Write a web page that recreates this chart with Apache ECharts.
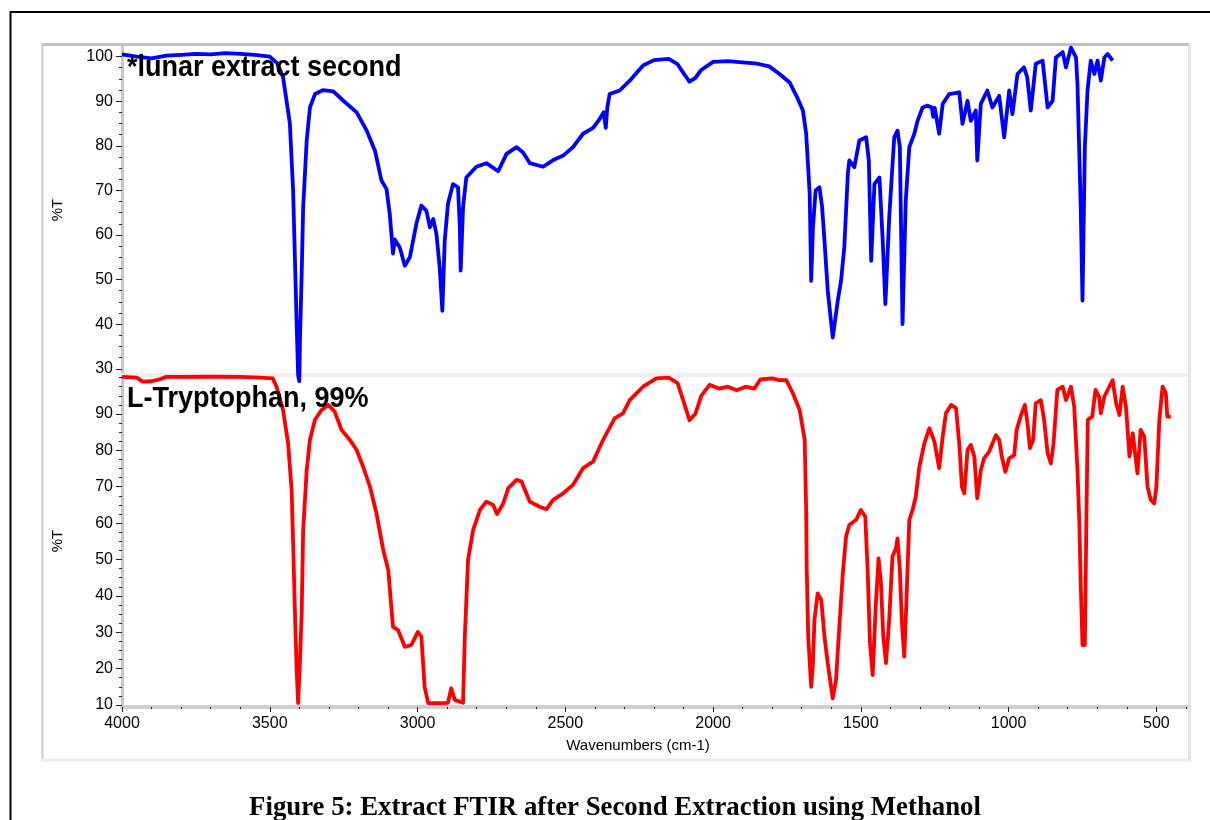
<!DOCTYPE html>
<html>
<head>
<meta charset="utf-8">
<script src="https://cdn.jsdelivr.net/npm/echarts@6/dist/echarts.min.js"></script>
<style>
html,body{margin:0;padding:0;background:#fff;}
#chart{width:1210px;height:820px;}
</style>
</head>
<body>
<div id="chart"></div>
<script>
// ---- Data: *lunar extract second (blue) ----
const blueWn = [4000,3950,3900,3850,3800,3750,3700,3650,3600,3550,3500,3476,3455,3432,3421,3415,3409,3404,3400,3398,3392,3387,3375,3364,3347,3319,3285,3251,3206,3172,3144,3122,3105,3094,3083,3077,3071,3060,3043,3026,3004,2987,2970,2958,2947,2936,2925,2916,2908,2897,2880,2863,2857,2854,2846,2835,2801,2767,2727,2699,2665,2643,2620,2575,2541,2507,2474,2440,2406,2384,2370,2363,2358,2350,2316,2282,2237,2200,2150,2120,2100,2080,2060,2040,2000,1950,1900,1850,1810,1775,1741,1718,1696,1685,1679,1673,1668,1662,1653,1640,1631,1623,1612,1595,1590,1578,1567,1556,1544,1539,1522,1505,1482,1473,1465,1454,1437,1426,1417,1404,1387,1376,1368,1359,1348,1336,1319,1308,1291,1274,1260,1255,1250,1235,1223,1201,1167,1156,1139,1128,1111,1106,1094,1072,1055,1032,1015,998,987,970,948,937,925,908,885,868,851,840,817,806,789,772,767,756,750,742,733,722,710,699,688,676,665,648];
const blueT = [100.5,100.0,99.6,100.2,100.4,100.6,100.5,100.8,100.6,100.4,100.0,98.6,95.4,85.0,70.0,55.0,40.0,28.5,27.2,36.0,51.3,66.2,81.2,88.6,91.6,92.5,92.2,90.1,87.5,83.4,78.9,72.2,70.3,64.7,55.8,59.0,58.7,57.2,53.1,55.0,62.5,66.6,65.4,61.7,63.6,60.2,52.7,43.0,58.7,67.0,71.4,70.7,62.0,52.0,66.2,72.9,75.3,76.1,74.3,78.2,79.7,78.5,76.1,75.3,76.8,77.8,79.7,82.7,84.0,86.0,87.5,84.0,88.5,91.6,92.4,94.6,98.0,99.2,99.5,98.3,96.3,94.4,95.2,97.0,98.8,99.0,98.7,98.4,97.8,96.1,94.2,91.2,87.9,82.7,76.0,69.2,49.7,61.7,70.0,70.7,66.2,58.7,47.5,37.0,36.9,45.3,49.7,57.2,73.7,76.7,75.2,81.2,81.9,76.7,54.2,71.4,72.9,58.7,44.5,63.9,81.9,83.4,79.7,40.0,67.7,79.7,82.7,85.6,88.6,89.0,88.6,86.5,88.5,82.7,89.4,91.6,92.0,84.9,90.1,85.6,87.9,76.7,89.4,92.4,88.6,91.2,81.9,92.4,87.1,96.1,97.6,95.4,87.9,98.4,99.1,88.6,90.1,99.8,101.0,97.6,102.0,99.8,93.9,66.2,45.3,79.7,92.4,99.1,96.1,99.1,94.6,99.8,100.6,99.1];

// ---- Data: L-Tryptophan, 99% (red) ----
const redWn = [4000,3950,3930,3900,3870,3850,3800,3700,3600,3533,3490,3477,3455,3438,3426,3421,3415,3409,3404,3398,3392,3387,3375,3364,3347,3325,3302,3280,3257,3229,3206,3184,3161,3139,3116,3099,3083,3066,3043,3021,2999,2987,2976,2964,2925,2897,2886,2874,2846,2840,2829,2812,2789,2767,2744,2731,2710,2693,2665,2648,2620,2587,2564,2541,2507,2474,2440,2406,2372,2333,2305,2282,2237,2192,2150,2120,2100,2080,2060,2040,2012,1980,1950,1920,1890,1860,1840,1800,1775,1752,1730,1707,1690,1685,1683,1678,1668,1662,1657,1646,1634,1623,1612,1595,1584,1572,1561,1550,1539,1516,1500,1485,1477,1469,1460,1449,1440,1432,1424,1415,1404,1393,1381,1376,1368,1361,1353,1346,1336,1325,1314,1302,1285,1268,1251,1235,1223,1212,1195,1178,1167,1158,1150,1139,1128,1116,1106,1094,1083,1066,1043,1032,1023,1011,998,981,973,958,945,936,928,917,908,891,880,868,857,848,835,817,806,789,778,767,761,756,750,742,737,732,717,706,694,688,676,665,648,636,625,614,603,591,580,572,564,553,541,530,519,507,500,490,479,468,463,451];
const redT = [100.2,100.0,98.9,99.0,99.6,100.2,100.2,100.3,100.2,100.0,99.8,97.5,91.1,82.0,69.1,54.5,36.1,19.6,10.5,21.5,35.3,58.1,74.6,82.9,88.4,91.1,92.5,90.6,85.6,82.9,80.1,75.5,70.0,62.7,52.6,47.1,31.5,30.6,26.0,26.5,30.1,28.8,15.0,10.5,10.5,10.6,14.6,11.4,10.6,28.8,49.9,58.1,63.6,65.9,65.0,62.5,65.4,69.6,71.9,71.4,65.9,64.5,63.8,66.4,68.2,70.5,75.1,76.9,82.9,88.8,90.2,93.8,97.5,99.8,100.0,98.5,93.5,88.3,90.0,95.0,98.0,97.0,97.5,96.5,97.5,97.0,99.5,99.8,99.3,99.3,95.7,91.1,82.9,63.6,47.1,28.8,15.0,21.5,33.4,40.7,38.9,28.8,21.5,11.8,16.9,32.5,46.2,56.3,59.5,60.9,63.6,61.8,47.1,27.0,18.2,38.0,50.3,43.5,28.8,21.5,33.4,50.8,53.1,55.8,47.1,32.5,23.3,38.0,60.9,63.6,67.3,75.5,81.9,86.1,82.4,75.1,83.8,90.2,92.5,91.6,81.9,70.0,68.2,80.1,81.5,78.3,66.8,74.6,77.8,79.6,84.2,82.9,78.3,74.1,77.8,78.7,85.6,89.7,92.5,87.4,80.6,82.9,92.9,93.8,88.4,79.2,76.4,81.9,96.6,97.5,93.8,97.5,92.0,74.6,60.9,43.5,26.5,26.5,59.9,88.4,89.3,96.6,94.8,90.2,94.8,96.6,99.3,92.9,89.7,97.5,92.0,78.3,84.7,79.2,73.7,85.6,83.8,70.0,66.4,65.4,70.0,88.4,97.5,95.7,89.3,89.3];

// ---- Tick labels ----
const xMajorTicks = [4000,3500,3000,2500,2000,1500,1000,500];
const xMinorTicks = [4000,3900,3800,3700,3600,3500,3400,3300,3200,3100,3000,2900,2800,2700,2600,2500,2400,2300,2200,2100,2000,1900,1800,1700,1600,1500,1400,1300,1200,1100,1000,900,800,700,600,500,400];
const topYTicks = [30,40,50,60,70,80,90,100];
const topYMinor = [30,32.5,35,37.5,40,42.5,45,47.5,50,52.5,55,57.5,60,62.5,65,67.5,70,72.5,75,77.5,80,82.5,85,87.5,90,92.5,95,97.5,100,102.5];
const botYTicks = [10,20,30,40,50,60,70,80,90];
const botYMinor = [10,12.5,15,17.5,20,22.5,25,27.5,30,32.5,35,37.5,40,42.5,45,47.5,50,52.5,55,57.5,60,62.5,65,67.5,70,72.5,75,77.5,80,82.5,85,87.5,90,92.5,95,97.5,100];

const topLabel = '*lunar extract second';
const botLabel = 'L-Tryptophan, 99%';
const caption = 'Figure 5: Extract FTIR after Second Extraction using Methanol';

const pairs = (xs, ys) => xs.map((x, i) => [x, ys[i]]);

const FONT = '"Liberation Sans", Arial, sans-serif';
const X_MIN = 393, X_MAX = 4000;
const TOP_MIN = 28.6, TOP_MAX = 102.6;
const BOT_MIN = 9.45, BOT_MAX = 100.72;

const tickColor = '#222';
const plain = v => String(v);
const labelStyle = {color: '#000', fontSize: 16, fontFamily: FONT, formatter: plain};

const gridBase = {containLabel: false, outerBoundsMode: 'none'};

const chart = echarts.init(document.getElementById('chart'), null, {renderer: 'canvas'});
chart.setOption({
  animation: false,
  backgroundColor: '#ffffff',
  grid: [
    Object.assign({left: 122, top: 45, width: 1066, height: 330}, gridBase),
    Object.assign({left: 122, top: 375, width: 1066, height: 332}, gridBase)
  ],
  xAxis: [
    {gridIndex: 0, type: 'value', position: 'bottom', offset: 0, min: X_MIN, max: X_MAX, inverse: true,
     axisLine: {show: true, onZero: false, lineStyle: {color: '#eeeeee', width: 4}},
     axisTick: {show: false}, axisLabel: {show: false}, splitLine: {show: false}},
    {gridIndex: 1, type: 'value', position: 'bottom', offset: 0, min: X_MIN, max: X_MAX, inverse: true,
     axisLine: {show: true, onZero: false, lineStyle: {color: '#cfcfcf', width: 4}},
     axisTick: {show: true, customValues: xMinorTicks, length: 2, lineStyle: {color: tickColor, width: 1}},
     axisLabel: {show: false}, splitLine: {show: false}},
    {gridIndex: 1, type: 'value', position: 'bottom', offset: 0, min: X_MIN, max: X_MAX, inverse: true,
     axisLine: {show: false, onZero: false},
     axisTick: {show: true, customValues: xMajorTicks, length: 5, lineStyle: {color: tickColor, width: 1}},
     axisLabel: Object.assign({show: true, customValues: xMajorTicks, margin: 9}, labelStyle),
     splitLine: {show: false},
     name: 'Wavenumbers (cm-1)', nameLocation: 'middle', nameGap: 31,
     nameTextStyle: {color: '#000', fontSize: 15, fontFamily: FONT, padding: [0, 34, 0, 0]}}
  ],
  yAxis: [
    {gridIndex: 0, type: 'value', position: 'left', offset: 0, min: TOP_MIN, max: TOP_MAX,
     axisLine: {show: true, onZero: false, lineStyle: {color: '#c8c8c8', width: 3}},
     axisTick: {show: true, customValues: topYMinor, length: 3, lineStyle: {color: tickColor, width: 1}},
     axisLabel: {show: false}, splitLine: {show: false}},
    {gridIndex: 0, type: 'value', position: 'left', offset: 0, min: TOP_MIN, max: TOP_MAX,
     axisLine: {show: false, onZero: false},
     axisTick: {show: true, customValues: topYTicks, length: 6, lineStyle: {color: tickColor, width: 1}},
     axisLabel: Object.assign({show: true, customValues: topYTicks, margin: 9}, labelStyle),
     splitLine: {show: false},
     name: '%T', nameLocation: 'middle', nameGap: 57, nameRotate: 90,
     nameTextStyle: {color: '#000', fontSize: 15, fontFamily: FONT}},
    {gridIndex: 1, type: 'value', position: 'left', offset: 0, min: BOT_MIN, max: BOT_MAX,
     axisLine: {show: true, onZero: false, lineStyle: {color: '#c8c8c8', width: 3}},
     axisTick: {show: true, customValues: botYMinor, length: 3, lineStyle: {color: tickColor, width: 1}},
     axisLabel: {show: false}, splitLine: {show: false}},
    {gridIndex: 1, type: 'value', position: 'left', offset: 0, min: BOT_MIN, max: BOT_MAX,
     axisLine: {show: false, onZero: false},
     axisTick: {show: true, customValues: botYTicks, length: 6, lineStyle: {color: tickColor, width: 1}},
     axisLabel: Object.assign({show: true, customValues: botYTicks, margin: 9}, labelStyle),
     splitLine: {show: false},
     name: '%T', nameLocation: 'middle', nameGap: 57, nameRotate: 90,
     nameTextStyle: {color: '#000', fontSize: 15, fontFamily: FONT}}
  ],
  series: [
    {type: 'line', name: botLabel, xAxisIndex: 1, yAxisIndex: 2, data: pairs(redWn, redT),
     symbol: 'none', showSymbol: false, z: 2,
     lineStyle: {color: '#ff0000', width: 3.8, join: 'round'}},
    {type: 'line', name: topLabel, xAxisIndex: 0, yAxisIndex: 0, data: pairs(blueWn, blueT),
     symbol: 'none', showSymbol: false, clip: false, z: 3,
     lineStyle: {color: '#0000ff', width: 3.8, join: 'round'}}
  ],
  graphic: [
    {type: 'rect', silent: true, z: 0, shape: {x: 10.5, y: 12, width: 1260, height: 900},
     style: {fill: 'none', stroke: '#000', lineWidth: 2}},
    {type: 'line', silent: true, z: 1, shape: {x1: 42, y1: 44.5, x2: 1189, y2: 44.5},
     style: {stroke: '#c0c0c0', lineWidth: 3}},
    {type: 'line', silent: true, z: 1, shape: {x1: 42.5, y1: 43, x2: 42.5, y2: 761},
     style: {stroke: '#c8c8c8', lineWidth: 2}},
    {type: 'line', silent: true, z: 1, shape: {x1: 42, y1: 760, x2: 1191, y2: 760},
     style: {stroke: '#ececec', lineWidth: 3}},
    {type: 'line', silent: true, z: 1, shape: {x1: 1189.5, y1: 44, x2: 1189.5, y2: 760},
     style: {stroke: '#e4e4e4', lineWidth: 3}},
    {type: 'text', silent: true, z: 10, x: 127, y: 68, scaleX: 0.9,
     style: {text: topLabel, font: 'bold 30px ' + FONT, fill: '#000', textAlign: 'left', align: 'left', textVerticalAlign: 'middle', verticalAlign: 'middle'}},
    {type: 'text', silent: true, z: 10, x: 127, y: 399, scaleX: 0.9,
     style: {text: botLabel, font: 'bold 30px ' + FONT, fill: '#000', textAlign: 'left', align: 'left', textVerticalAlign: 'middle', verticalAlign: 'middle'}},
    {type: 'text', silent: true, z: 10, x: 615, y: 808,
     style: {text: caption, font: 'bold 26.8px "Liberation Serif", "Times New Roman", serif', fill: '#000', textAlign: 'center', align: 'center', textVerticalAlign: 'middle', verticalAlign: 'middle'}}
  ]
});
</script>
</body>
</html>
